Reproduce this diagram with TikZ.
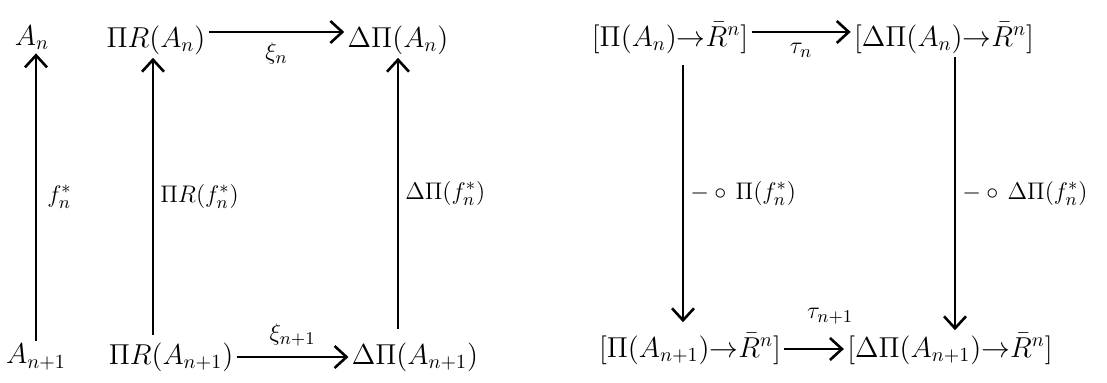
\documentclass[tikz,border=0pt]{standalone}
\usetikzlibrary{arrows.meta,calc}
\begin{document}
\begin{tikzpicture}[x=0.5pt,y=-0.5pt,
  obj/.style={inner sep=1.5pt,font=\fontsize{14}{16}\selectfont},
  lab/.style={inner sep=2pt,font=\fontsize{13}{15}\selectfont},
  ar/.style={line width=1.3pt,-{Straight Barb[length=6pt,width=11pt,line width=1.3pt]}}]
\path[use as bounding box] (0,0) rectangle (1107,383);
% left square
\node[obj] (An) at (32,38) {$A_n$};
\node[obj] (PRA) at (156,40) {$\Pi R(A_n)$};
\node[obj] (DPA) at (398,40) {$\Delta\Pi(A_n)$};
\node[obj] (Ab) at (36,357) {$A_{n+1}$};
\node[obj] (PRB) at (171,357) {$\Pi R(A_{n+1})$};
\node[obj] (DPB) at (415,357) {$\Delta\Pi(A_{n+1})$};
\draw[ar] ([yshift=4pt]PRA.east) -- node[lab,below=3pt] {$\xi_n$} ([yshift=4pt]DPA.west);
\draw[ar] (PRB.east) -- node[lab,above=3pt] {$\xi_{n+1}$} (DPB.west);
\draw[ar] (Ab.north) -- node[lab,right=3pt] {$f_n^{*}$} (Ab.north |- An.south);
\draw[ar] ([xshift=-1.5pt,yshift=2pt]PRA.south |- PRB.north) -- node[lab,right=1pt] {$\Pi R(f_n^{*})$} ([xshift=-1.5pt]PRA.south);
\draw[ar] ([yshift=5pt]DPA.south |- DPB.north) -- node[lab,right=1pt] {$\Delta\Pi(f_n^{*})$} (DPA.south);
% right square
\node[obj] (TL) at (670,38) {$[\Pi(A_n){\to}\bar{R}^n]$};
\node[obj] (TR) at (944,38) {$[\Delta\Pi(A_n){\to}\bar{R}^n]$};
\node[obj] (BL) at (690,349) {$[\Pi(A_{n+1}){\to}\bar{R}^n]$};
\node[obj] (BR) at (950,349) {$[\Delta\Pi(A_{n+1}){\to}\bar{R}^n]$};
\draw[ar] ([yshift=3pt]TL.east) -- node[lab,below=3pt] {$\tau_n$} ([yshift=3pt]TR.west);
\draw[ar] (BL.east) -- node[lab,above=10pt,xshift=8pt] {$\tau_{n+1}$} (BR.west);
\draw[ar] ([xshift=6.5pt,yshift=-4pt]TL.south) -- node[lab,right=1pt] {$-\circ\,\Pi(f_n^{*})$} ([xshift=6.5pt,yshift=4pt]TL.south |- BL.north);
\draw[ar] ([xshift=5.5pt]TR.south) -- node[lab,right=1pt] {$-\circ\,\Delta\Pi(f_n^{*})$} ([xshift=5.5pt]TR.south |- BR.north);
\end{tikzpicture}
\end{document}
